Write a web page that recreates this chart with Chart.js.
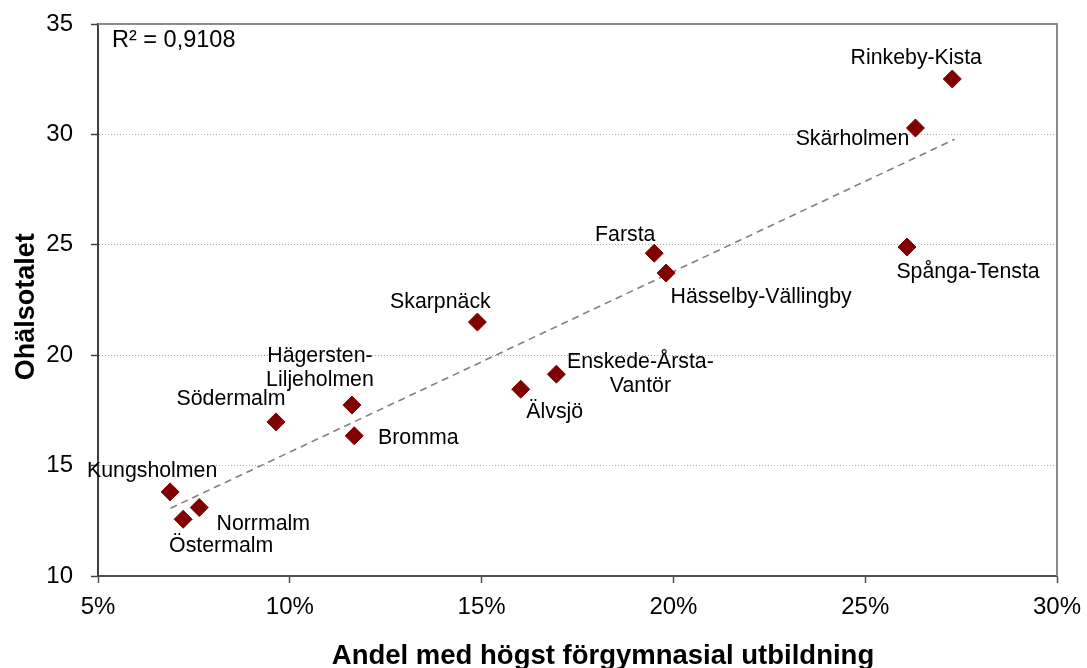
<!DOCTYPE html>
<html>
<head>
<meta charset="utf-8">
<script src="https://cdn.jsdelivr.net/npm/chart.js@4.4.0/dist/chart.umd.min.js"></script>
<style>
html,body{margin:0;padding:0;background:#fff;}
#wrap{width:1087px;height:668px;position:relative;}
canvas{display:block;}
</style>
</head>
<body>
<div id="wrap"><canvas id="c" width="1087" height="668"></canvas></div>
<script>
// ---- data ----
const districts = ['Rinkeby-Kista','Skärholmen','Spånga-Tensta','Farsta','Hässelby-Vällingby','Skarpnäck',
  'Hägersten-\nLiljeholmen','Södermalm','Bromma','Enskede-Årsta-\nVantör','Älvsjö','Kungsholmen','Norrmalm','Östermalm'];
const lowEducationShare = [27.27, 26.31, 26.09, 19.50, 19.81, 14.89, 11.62, 9.64, 11.68, 16.95, 16.02, 6.88, 7.64, 7.22];
const illHealthRate     = [32.51, 30.29, 24.90, 24.62, 23.72, 21.50, 17.74, 16.98, 16.35, 19.14, 18.46, 13.81, 13.10, 12.57];
const trendX = [6.89, 27.33];
const trendY = [13.07, 29.78];
const xTicks = [5, 10, 15, 20, 25, 30];
const yTicks = [10, 15, 20, 25, 30, 35];
const rSquaredText = 'R² = 0,9108';
const xTitle = 'Andel med högst förgymnasial utbildning';
const yTitle = 'Ohälsotalet';

// ---- label placement (style): [dx of text centre, dy of first baseline] in px ----
const labelOffsets = [[-36,-15],[-63,17],[61,31],[-29,-12],[95,30],[-37,-14],
  [-32,-43],[-45,-17],[64,8],[84,-6],[34,29],[-18,-15],[64,22],[38,33]];

const FONT = '"Liberation Sans", Arial, sans-serif';

const labelPlugin = {
  id: 'pointLabels',
  afterDatasetsDraw(chart) {
    const ctx = chart.ctx;
    const meta = chart.getDatasetMeta(0);
    ctx.save();
    ctx.font = '21.3px ' + FONT;
    ctx.fillStyle = '#000';
    ctx.textAlign = 'center';
    ctx.textBaseline = 'alphabetic';
    meta.data.forEach((pt, i) => {
      const lines = districts[i].split('\n');
      const [dx, dy] = labelOffsets[i];
      lines.forEach((ln, j) => ctx.fillText(ln, pt.x + dx, pt.y + dy + j * 23.5));
    });
    ctx.restore();
  }
};

const framePlugin = {
  id: 'frame',
  beforeDatasetsDraw(chart) {
    const {ctx, chartArea: a} = chart;
    ctx.save();
    ctx.strokeStyle = '#8c8c8c';
    ctx.lineWidth = 2;
    ctx.beginPath();
    ctx.moveTo(a.left, a.top);
    ctx.lineTo(a.right, a.top);
    ctx.lineTo(a.right, a.bottom);
    ctx.stroke();
    ctx.restore();
  },
  afterDraw(chart) {
    const {ctx, chartArea: a} = chart;
    ctx.save();
    ctx.fillStyle = '#000';
    ctx.font = '23.5px ' + FONT;
    ctx.textAlign = 'left';
    ctx.textBaseline = 'alphabetic';
    ctx.fillText(rSquaredText, a.left + 14, a.top + 23);
    ctx.font = 'bold 27.5px ' + FONT;
    ctx.textAlign = 'center';
    ctx.fillText(xTitle, 603, 664);
    ctx.font = 'bold 27px ' + FONT;
    ctx.translate(33.5, 306.7);
    ctx.rotate(-Math.PI / 2);
    ctx.fillText(yTitle, 0, 0);
    ctx.restore();
  }
};

new Chart(document.getElementById('c'), {
  type: 'scatter',
  data: {
    datasets: [
      {
        label: 'Stadsdelar',
        data: lowEducationShare.map((x, i) => ({x: x, y: illHealthRate[i]})),
        pointStyle: 'rectRot',
        pointRadius: 9,
        pointHoverRadius: 9,
        backgroundColor: '#800000',
        borderColor: '#800000',
        borderWidth: 1,
        order: 0
      },
      {
        label: 'Trend',
        data: trendX.map((x, i) => ({x: x, y: trendY[i]})),
        showLine: true,
        borderColor: '#808080',
        borderWidth: 1.6,
        borderDash: [7, 5],
        pointRadius: 0,
        fill: false,
        order: 1
      }
    ]
  },
  options: {
    responsive: false,
    animation: false,
    devicePixelRatio: 1,
    layout: {padding: {left: 0, right: 30, top: 24, bottom: 0}},
    plugins: {legend: {display: false}, tooltip: {enabled: false}, title: {display: false}},
    scales: {
      x: {
        type: 'linear',
        min: xTicks[0], max: xTicks[xTicks.length - 1],
        afterBuildTicks: s => { s.ticks = xTicks.map(v => ({value: v})); },
        afterFit: s => { s.height = 92; s.paddingLeft = 0; s.paddingRight = 0; },
        ticks: {
          font: {family: FONT, size: 24}, color: '#000', padding: 10,
          callback: v => v + '%', maxRotation: 0, autoSkip: false
        },
        grid: {drawOnChartArea: false, drawTicks: true, tickLength: 7, tickColor: '#505050', tickWidth: 1.5},
        border: {display: true, color: '#505050', width: 2}
      },
      y: {
        type: 'linear',
        min: yTicks[0], max: yTicks[yTicks.length - 1],
        afterBuildTicks: s => { s.ticks = yTicks.map(v => ({value: v})); },
        afterFit: s => { s.width = 98; s.paddingTop = 0; s.paddingBottom = 0; },
        ticks: {font: {family: FONT, size: 24}, color: '#000', padding: 18, autoSkip: false},
        grid: {
          drawOnChartArea: true, drawTicks: true, tickLength: 7, tickColor: '#404040', tickWidth: 1.5,
          color: c => (c.tick && c.tick.value > yTicks[0] && c.tick.value < yTicks[yTicks.length - 1]) ? '#a8a8a8' : 'rgba(0,0,0,0)',
          lineWidth: 1,
          borderDash: [1, 2]
        },
        border: {display: true, color: '#404040', width: 2, dash: [1, 2]}
      }
    }
  },
  plugins: [labelPlugin, framePlugin]
});
</script>
</body>
</html>
